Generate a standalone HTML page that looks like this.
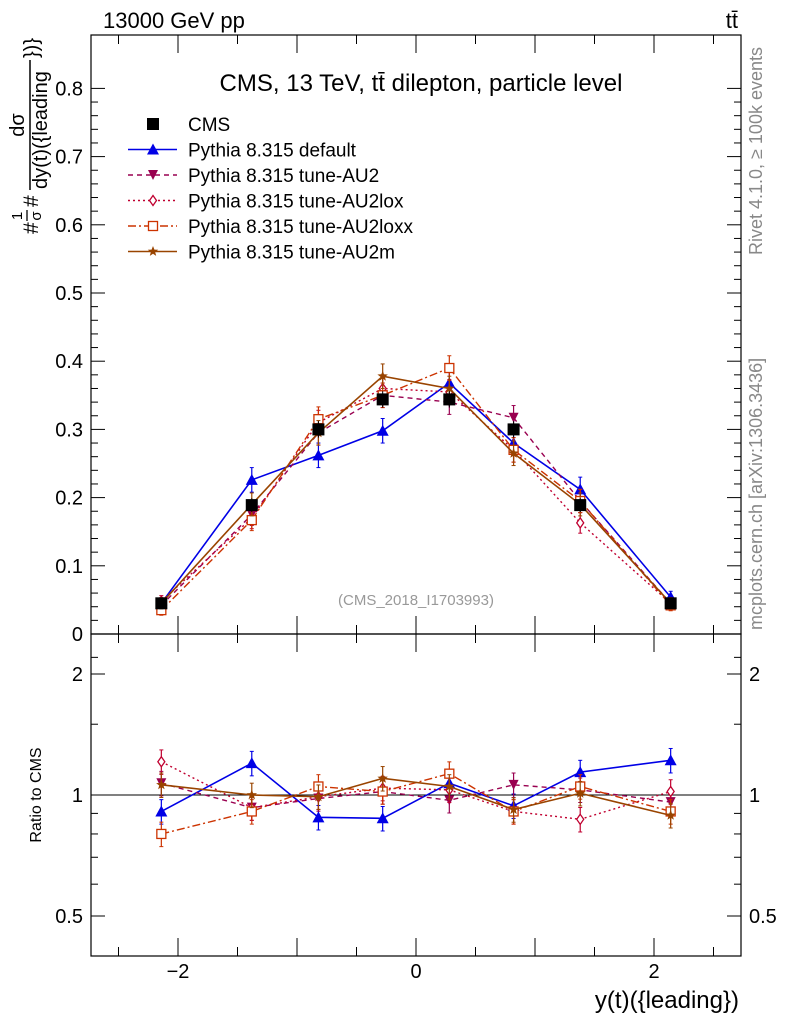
<!DOCTYPE html>
<html><head><meta charset="utf-8"><style>
body{margin:0;background:#fff}
svg{display:block;font-family:"Liberation Sans",sans-serif}
</style></head><body>
<svg id="c" width="786" height="1024" xmlns="http://www.w3.org/2000/svg">
<text x="103" y="28" font-size="22">13000 GeV pp</text>
<text x="738" y="28" font-size="22" text-anchor="end">tt̄</text>
<text x="421" y="91" font-size="24" text-anchor="middle">CMS, 13 TeV, tt̄ dilepton, particle level</text>
<text transform="translate(762,255) rotate(-90)" font-size="18" fill="#888">Rivet 4.1.0, ≥ 100k events</text>
<text transform="translate(762,630) rotate(-90)" font-size="18" fill="#888">mcplots.cern.ch [arXiv:1306.3436]</text>
<text x="416" y="605" font-size="15" fill="#999" text-anchor="middle">(CMS_2018_I1703993)</text>
<g transform="translate(0,240) rotate(-90)">
 <text x="6" y="38" font-size="21">#</text>
 <text x="24" y="22" font-size="15" text-anchor="middle">1</text>
 <line x1="19" x2="30" y1="27" y2="27" stroke="#000" stroke-width="1.3"/>
 <text x="24" y="41" font-size="15" text-anchor="middle">σ</text>
 <text x="33" y="38" font-size="21">#</text>
 <text x="115" y="24" font-size="20" text-anchor="middle">dσ</text>
 <line x1="50" x2="180" y1="30" y2="30" stroke="#000" stroke-width="1.5"/>
 <text x="51" y="47" font-size="20">dy(t)({leading</text>
 <text x="182" y="38" font-size="20">})}</text>
</g>
<text transform="translate(41,795) rotate(-90)" font-size="16" text-anchor="middle">Ratio to CMS</text>
<text x="739" y="1008" font-size="24" text-anchor="end">y(t)({leading})</text>
<g id="axes"></g><g id="marks"></g><g id="legend"></g>
</svg>
<script>
const xBins=[-2.14,-1.38,-0.82,-0.28,0.28,0.82,1.38,2.14];
const cmsVals=[0.045,0.189,0.300,0.344,0.344,0.300,0.189,0.045];
const cmsErr=[0.004,0.01,0.012,0.012,0.012,0.012,0.01,0.004];
const defVals=[0.045,0.226,0.262,0.298,0.368,0.280,0.212,0.054];
const au2Vals=[0.042,0.175,0.295,0.350,0.340,0.317,0.195,0.045];
const loxVals=[0.048,0.170,0.310,0.360,0.355,0.270,0.163,0.045];
const loxxVals=[0.035,0.167,0.315,0.350,0.390,0.270,0.195,0.042];
const au2mVals=[0.045,0.190,0.295,0.378,0.360,0.265,0.190,0.045];
const defRatio=[0.91,1.20,0.88,0.875,1.07,0.94,1.14,1.22];
const au2Ratio=[1.07,0.93,0.98,1.02,0.97,1.06,1.03,0.96];
const loxRatio=[1.21,0.93,0.99,1.04,1.03,0.91,0.87,1.02];
const loxxRatio=[0.80,0.91,1.05,1.02,1.13,0.91,1.05,0.91];
const au2mRatio=[1.06,1.00,0.99,1.10,1.05,0.92,1.01,0.89];
const yTicks=[0,0.1,0.2,0.3,0.4,0.5,0.6,0.7,0.8];
const rTicks=[0.5,1,2];
const xTicks=[-2,0,2];
const NS="http://www.w3.org/2000/svg";
const X=v=>416+v*119, Y=v=>634-v*682, R=v=>795-121*Math.log2(v);
function mk(p,t,a){const e=document.createElementNS(NS,t);for(const k in a)e.setAttribute(k,a[k]);p.appendChild(e);return e;}
const ax=document.getElementById('axes'),mg=document.getElementById('marks'),lg=document.getElementById('legend');
let f=mk(ax,'rect',{x:91,y:35,width:650,height:599,fill:'none',stroke:'#000','stroke-width':1.2});

f=mk(ax,'rect',{x:91,y:634,width:650,height:322,fill:'none',stroke:'#000','stroke-width':1.2});

let l=mk(ax,'line',{x1:91,x2:741,y1:R(1),y2:R(1),stroke:'#000'});

yTicks.forEach(v=>{const y=Y(v);mk(ax,'line',{x1:91,x2:105,y1:y,y2:y,stroke:'#000'});mk(ax,'line',{x1:741,x2:727,y1:y,y2:y,stroke:'#000'});
 if(v<0.8){for(let k=1;k<5;k++){const yy=Y(v+k*0.02);mk(ax,'line',{x1:91,x2:98,y1:yy,y2:yy,stroke:'#000'});mk(ax,'line',{x1:741,x2:734,y1:yy,y2:yy,stroke:'#000'});}}
 const t=mk(ax,'text',{x:83,y:y+7,'font-size':20,'text-anchor':'end'});t.textContent=v===0?'0':v.toFixed(1);
 });
rTicks.forEach(v=>{const y=R(v);mk(ax,'line',{x1:91,x2:105,y1:y,y2:y,stroke:'#000'});mk(ax,'line',{x1:741,x2:727,y1:y,y2:y,stroke:'#000'});
 [[83,'end'],[749,'start']].forEach(([x,a])=>{const t=mk(ax,'text',{x:x,y:y+7,'font-size':20,'text-anchor':a});t.textContent=String(v);
 });});
[0.6,0.7,0.8,0.9,1.5,2.2].forEach(v=>{const y=R(v);mk(ax,'line',{x1:91,x2:98,y1:y,y2:y,stroke:'#000'});mk(ax,'line',{x1:741,x2:734,y1:y,y2:y,stroke:'#000'});});
for(let v=-2.5;v<=2.5;v+=0.5){const x=X(v),big=Math.abs(v%1)<1e-6;const h=big?18:9;
 [[35,35+h],[634,634-h],[634,634+h],[956,956-h]].forEach(([a,b])=>mk(ax,'line',{x1:x,x2:x,y1:a,y2:b,stroke:'#000'}));}
xTicks.forEach(v=>{const t=mk(ax,'text',{x:X(v),y:978,'font-size':20,'text-anchor':'middle'});t.textContent=v<0?'−'+(-v):String(v);
 });
function marker(g,type,x,y,c){
 if(type==='sq')mk(g,'rect',{x:x-6,y:y-6,width:12,height:12,fill:'#000'});
 else if(type==='tu')mk(g,'polygon',{points:`${x},${y-6} ${x-6},${y+5} ${x+6},${y+5}`,fill:c});
 else if(type==='td')mk(g,'polygon',{points:`${x},${y+5} ${x-5},${y-5} ${x+5},${y-5}`,fill:c});
 else if(type==='di')mk(g,'polygon',{points:`${x},${y-5} ${x+3.5},${y} ${x},${y+5} ${x-3.5},${y}`,fill:'#fff',stroke:c,'stroke-width':1.3});
 else if(type==='os')mk(g,'rect',{x:x-4.5,y:y-4.5,width:9,height:9,fill:'#fff',stroke:c,'stroke-width':1.3});
 else if(type==='st'){let p=[];for(let i=0;i<10;i++){const r=i%2?2.3:5.5,a=-Math.PI/2+i*Math.PI/5;p.push((x+r*Math.cos(a)).toFixed(1)+','+(y+r*Math.sin(a)).toFixed(1));}mk(g,'polygon',{points:p.join(' '),fill:c});}
}
const series=[
 {n:'default',v:defVals,r:defRatio,c:'#0000e6',d:'',m:'tu',w:1.6,lab:'Pythia 8.315 default'},
 {n:'au2',v:au2Vals,r:au2Ratio,c:'#990050',d:'5,4',m:'td',w:1.4,lab:'Pythia 8.315 tune-AU2'},
 {n:'au2lox',v:loxVals,r:loxRatio,c:'#c00030',d:'2,3',m:'di',w:1.4,lab:'Pythia 8.315 tune-AU2lox'},
 {n:'au2loxx',v:loxxVals,r:loxxRatio,c:'#cc3300',d:'8,3,2,3',m:'os',w:1.4,lab:'Pythia 8.315 tune-AU2loxx'},
 {n:'au2m',v:au2mVals,r:au2mRatio,c:'#994400',d:'',m:'st',w:1.6,lab:'Pythia 8.315 tune-AU2m'}];
series.forEach(s=>{
 const g=mk(mg,'g',{});
 [[s.v,Y,0.018],[s.r,R,0.07]].forEach(([vals,fy,e],k)=>{
  mk(g,'polyline',{points:vals.map((v,i)=>X(xBins[i])+','+fy(v)).join(' '),fill:'none',stroke:s.c,'stroke-width':s.w,'stroke-dasharray':s.d});
  vals.forEach((v,i)=>{const x=X(xBins[i]),ee=k?e*v:e*Math.min(1,v/0.3+0.3);
   mk(g,'line',{x1:x,x2:x,y1:fy(v+ee),y2:fy(Math.max(v-ee,0.001)),stroke:s.c,'stroke-width':1.2});
   mk(g,'line',{x1:x-2,x2:x+2,y1:fy(v+ee),y2:fy(v+ee),stroke:s.c,'stroke-width':1});
   mk(g,'line',{x1:x-2,x2:x+2,y1:fy(Math.max(v-ee,0.001)),y2:fy(Math.max(v-ee,0.001)),stroke:s.c,'stroke-width':1});
   marker(g,s.m,x,fy(v),s.c);});
 });
});
const cg=mk(mg,'g',{});
cmsVals.forEach((v,i)=>{const x=X(xBins[i]);mk(cg,'line',{x1:x,x2:x,y1:Y(v+cmsErr[i]),y2:Y(v-cmsErr[i]),stroke:'#000'});marker(cg,'sq',x,Y(v),'#000');});
const items=[{lab:'CMS',m:'sq',c:'#000',d:null}].concat(series);
items.forEach((s,i)=>{const y=124+i*25.5;const g=mk(lg,'g',{});
 
 if(s.d!==null)mk(g,'line',{x1:128,x2:177,y1:y,y2:y,stroke:s.c,'stroke-width':s.w,'stroke-dasharray':s.d});
 marker(g,s.m,153,y,s.c);
 const t=mk(g,'text',{x:188,y:y+7,'font-size':19});t.textContent=s.lab;});
</script>
</body></html>
